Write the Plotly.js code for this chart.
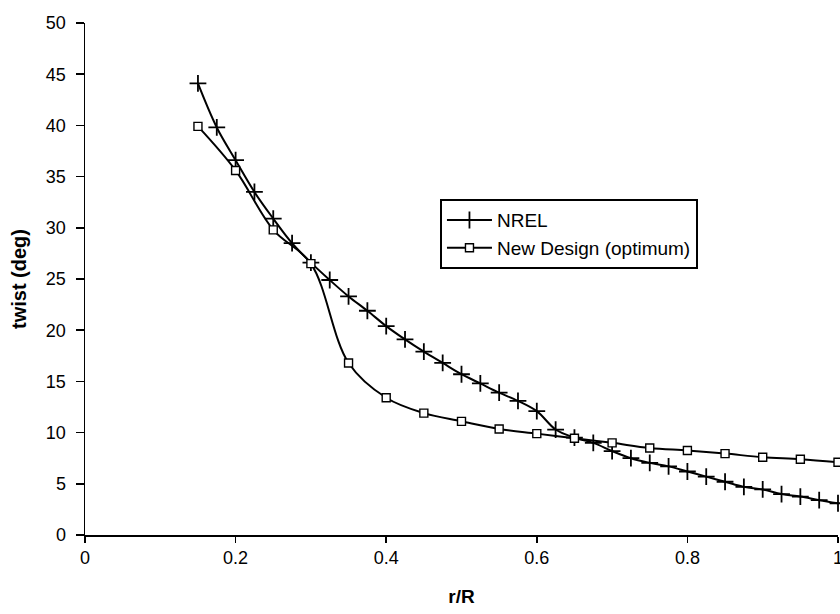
<!DOCTYPE html>
<html>
<head>
<meta charset="utf-8">
<script src="https://cdn.plot.ly/plotly-3.0.1.min.js"></script>
<style>html,body{margin:0;padding:0;background:#fff;}#chart{width:840px;height:614px;}</style>
</head>
<body>
<div id="chart"></div>
<script>
// r/R positions and twist angles (deg)
const nrelX = [0.15,0.175,0.2,0.225,0.25,0.275,0.3,0.325,0.35,0.375,0.4,0.425,0.45,0.475,0.5,0.525,0.55,0.575,0.6,0.625,0.65,0.675,0.7,0.725,0.75,0.775,0.8,0.825,0.85,0.875,0.9,0.925,0.95,0.975,1.0];
const nrelTwist = [44.1,39.8,36.6,33.5,30.9,28.5,26.6,24.9,23.3,21.9,20.4,19.1,17.9,16.8,15.7,14.8,13.9,13.1,12.1,10.3,9.5,9.0,8.2,7.5,7.05,6.7,6.2,5.7,5.2,4.7,4.45,4.0,3.75,3.4,3.1];
const newX = [0.15,0.2,0.25,0.3,0.35,0.4,0.45,0.5,0.55,0.6,0.65,0.7,0.75,0.8,0.85,0.9,0.95,1.0];
const newTwist = [39.9,35.6,29.8,26.5,16.8,13.4,11.9,11.1,10.35,9.9,9.45,9.0,8.5,8.25,7.95,7.6,7.4,7.1];
const xTicks = [0,0.2,0.4,0.6,0.8,1];
const xTickText = ['0','0.2','0.4','0.6','0.8','1'];
const yTicks = [0,5,10,15,20,25,30,35,40,45,50];

const font = 'Liberation Sans, Arial, sans-serif';

const traces = [
  {
    x: nrelX, y: nrelTwist, name: 'NREL', type: 'scatter', mode: 'lines+markers',
    legendgroup: 'a', cliponaxis: false,
    line: {color: '#000', width: 2, shape: 'spline'},
    marker: {symbol: 'cross-thin', size: 12, line: {color: '#000', width: 1.8}, color: '#000'}
  },
  {
    x: newX, y: newTwist, name: 'New Design (optimum)', type: 'scatter', mode: 'lines+markers',
    legendgroup: 'b', cliponaxis: false,
    line: {color: '#000', width: 2, shape: 'spline'},
    marker: {symbol: 'square', size: 8, color: '#fff', line: {color: '#000', width: 1.4}}
  }
];

const layout = {
  width: 840, height: 614,
  margin: {l: 85, r: 2, t: 23, b: 79},
  paper_bgcolor: '#fff', plot_bgcolor: '#fff',
  font: {family: font, size: 18, color: '#000'},
  showlegend: true,
  legend: {
    x: 0.4714, y: 0.656, xanchor: 'left', yanchor: 'top',
    bordercolor: '#000', borderwidth: 2, bgcolor: '#fff',
    font: {family: font, size: 19, color: '#000'},
    tracegroupgap: 0, itemwidth: 45
  },
  xaxis: {
    range: [0, 1], tickvals: xTicks, ticktext: xTickText,
    showgrid: false, zeroline: false, showline: true, linecolor: '#000', linewidth: 1.5,
    ticks: 'outside', ticklen: 6, tickwidth: 1.5, tickcolor: '#000',
    ticklabeloverflow: 'allow', ticklabelstandoff: 0,
    tickfont: {family: font, size: 18, color: '#000'},
    title: {text: '<b>r/R</b>', font: {family: font, size: 19, color: '#000'}, standoff: 22}
  },
  yaxis: {
    range: [0, 50], tickvals: yTicks,
    showgrid: false, zeroline: false, showline: true, linecolor: '#000', linewidth: 1.5,
    ticks: 'outside', ticklen: 8, tickwidth: 1.5, tickcolor: '#000',
    ticklabeloverflow: 'allow', ticklabelstandoff: 6,
    tickfont: {family: font, size: 18, color: '#000'},
    title: {text: '<b>twist (deg)</b>', font: {family: font, size: 20, color: '#000'}, standoff: 14}
  }
};

Plotly.newPlot('chart', traces, layout, {displayModeBar: false, staticPlot: true});
</script>
</body>
</html>
